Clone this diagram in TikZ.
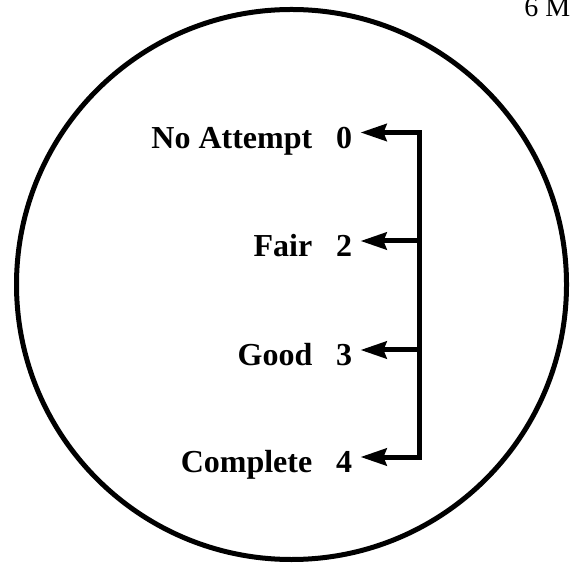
\documentclass[tikz,border=0pt]{standalone}
\usepackage{fontspec}
\setmainfont{Liberation Serif}
\usetikzlibrary{arrows.meta, positioning}

\begin{document}
\begin{tikzpicture}[
    x=0.5pt, y=-0.5pt,
    >=Stealth,
    rim/.style={draw, line width=2.5pt},
    score/.style={inner sep=0pt, font=\fontsize{16}{19}\selectfont\bfseries},
    level/.style={inner sep=0pt, font=\fontsize{16}{19}\selectfont\bfseries},
    arrow/.style={-{Stealth[length=13pt, width=8.5pt, inset=1.5pt]}, line width=2.5pt, shorten >=4pt},
    marks/.style={inner sep=0pt, font=\fontsize{14}{16}\selectfont},
]
\useasboundingbox (0,0) rectangle (571,565);
\clip (0,0) rectangle (571,565);

% Outer circle
\draw[rim] (291.5,284.5) circle [radius=137.5pt];

% Marks (cut at the edge)
\node[marks, anchor=base west] (marks) at (524,17) {6 M};

% Scores and levels
\node[score, anchor=base east] (num0) at (352.5,148.5) {0};
\node[score, anchor=base east] (num2) at (352.5,256.5) {2};
\node[score, anchor=base east] (num3) at (352.5,365.5) {3};
\node[score, anchor=base east] (num4) at (352.5,472.5) {4};

\node[level, base left=11.5pt of num0] (lvl0) {No Attempt};
\node[level, base left=11.5pt of num2] (lvl2) {Fair};
\node[level, base left=11.5pt of num3] (lvl3) {Good};
\node[level, base left=11.5pt of num4] (lvl4) {Complete};

% Bus line
\coordinate (c0) at (419,132.5);
\coordinate (c2) at (419,241);
\coordinate (c3) at (419,350);
\coordinate (c4) at (419,457);

% Arrows
\draw[arrow] (c4) -- (c0) -- (c0 -| num0.east);
\draw[arrow] (c0) -- (c4) -- (c4 -| num4.east);
\draw[arrow] (c2) -- (c2 -| num2.east);
\draw[arrow] (c3) -- (c3 -| num3.east);

\end{tikzpicture}
\end{document}
